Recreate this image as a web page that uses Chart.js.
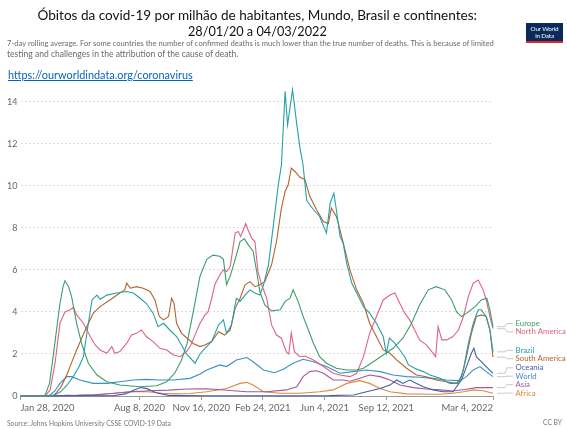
<!DOCTYPE html>
<html>
<head>
<meta charset="utf-8">
<script src="https://cdn.jsdelivr.net/npm/chart.js@4.4.1/dist/chart.umd.min.js"></script>
<style>
  body { margin: 0; width: 567px; height: 429px; overflow: hidden; background: #fff; position: relative; font-family: Lato, "Open Sans", sans-serif; }
  #chart { position: absolute; left: 0; top: 0; }
  .txt { position: absolute; white-space: nowrap; line-height: 1; }
  #title1, #title2 { color: #111; }
  #sub1, #sub2 { color: #6b6b6b; }
  #link { color: #0563c1; text-decoration: underline; }
  #source, #ccby { color: #777; }
  #logo { position: absolute; left: 526px; top: 23px; width: 37px; height: 20px; background: #0b2a5b; border-bottom: 2px solid #d42b2b; box-sizing: border-box; color: #fff; font-size: 6.4px; line-height: 7.4px; text-align: center; padding-top: 2px; letter-spacing: -0.2px; }
</style>
</head>
<body>
<canvas id="chart" width="567" height="429"></canvas>
<div class="txt" id="title1">Óbitos da covid-19 por milhão de habitantes, Mundo, Brasil e continentes:</div>
<div class="txt" id="title2">28/01/20 a 04/03/2022</div>
<div class="txt" id="sub1">7-day rolling average. For some countries the number of confirmed deaths is much lower than the true number of deaths. This is because of limited</div>
<div class="txt" id="sub2">testing and challenges in the attribution of the cause of death.</div>
<div class="txt" id="link">https://ourworldindata.org/coronavirus</div>
<div id="logo">Our World<br>in Data</div>
<div class="txt" id="source">Source: Johns Hopkins University CSSE COVID-19 Data</div>
<div class="txt" id="ccby">CC BY</div>
<script>
// days since Jan 28, 2020 -> daily deaths per million (7-day avg)
const europe = [[0,0],[35,0],[40,0.05],[47,0.6],[53,1.9],[60,3.5],[64,4.4],[69,5.2],[72,5.48],[78,5.2],[83,4.7],[91,3.46],[99,2.5],[110,1.56],[124,1.0],[140,0.68],[161,0.52],[194,0.44],[221,0.49],[237,0.68],[250,1.08],[261,1.7],[270,2.5],[280,4.0],[291,5.7],[302,6.5],[312,6.7],[323,6.65],[329,6.5],[334,5.3],[340,5.7],[348,6.5],[356,7.35],[363,7.48],[369,7.2],[377,6.9],[383,5.9],[388,4.97],[396,4.33],[407,4.05],[421,4.1],[429,4.5],[437,4.65],[442,5.05],[450,4.5],[458,3.8],[466,3.2],[475,2.5],[485,1.87],[496,1.56],[512,1.32],[529,1.24],[545,1.24],[556,1.32],[572,1.63],[588,1.95],[604,2.27],[620,2.75],[634,3.46],[647,4.33],[661,5.05],[674,5.2],[688,5.05],[699,4.57],[707,4.0],[715,3.78],[726,4.0],[737,4.25],[747,4.57],[756,4.65],[761,4.1],[766,3.3]];

const northAmerica = [[0,0],[40,0],[48,0.29],[56,1.56],[64,3.46],[72,4.0],[80,4.1],[86,4.22],[91,3.86],[102,3.46],[113,2.83],[121,2.43],[129,2.19],[140,2.03],[148,2.35],[153,2.03],[161,2.11],[172,2.5],[180,2.9],[188,2.98],[196,3.14],[204,2.83],[215,2.59],[226,2.27],[237,2.19],[248,1.95],[259,1.87],[269,2.11],[275,2.35],[291,3.46],[299,3.86],[304,4.0],[310,4.65],[315,5.29],[323,5.76],[329,6.0],[334,5.92],[340,6.16],[348,7.75],[353,7.83],[357,7.59],[365,8.2],[369,7.9],[375,7.5],[380,7.35],[385,5.92],[391,5.29],[399,4.65],[407,3.38],[415,2.9],[423,2.75],[431,2.1],[435,2.0],[439,3.0],[444,2.11],[453,1.87],[461,1.9],[475,1.71],[491,1.4],[507,1.08],[518,1.0],[534,0.92],[545,1.08],[556,1.87],[566,2.98],[577,3.78],[588,4.57],[599,4.8],[607,4.9],[615,4.4],[623,3.94],[631,3.62],[639,3.14],[647,2.67],[658,2.43],[669,2.03],[673,1.87],[677,3.3],[683,2.67],[691,2.67],[701,2.83],[710,3.14],[718,3.78],[726,4.73],[734,5.37],[742,5.52],[750,5.05],[755,4.57],[761,3.78],[766,3.2]];

const brazil = [[0,0],[45,0],[55,0.05],[65,0.2],[75,0.5],[85,0.9],[95,1.4],[102,1.87],[110,3.46],[116,4.57],[124,4.8],[129,4.6],[140,4.8],[156,4.9],[172,4.97],[183,4.9],[194,4.65],[204,4.4],[215,3.94],[223,3.3],[232,3.46],[242,3.14],[253,2.83],[261,2.43],[269,2.0],[283,1.56],[291,2.0],[299,2.27],[310,2.59],[321,3.38],[329,3.62],[334,2.98],[342,3.38],[350,4.65],[356,4.5],[364,4.8],[372,5.05],[380,4.9],[388,4.8],[394,5.29],[402,6.24],[410,8.14],[418,10.05],[423,11.0],[429,14.5],[433,12.9],[441,14.57],[448,12.9],[453,11.8],[458,11.0],[464,9.3],[475,8.86],[485,8.54],[496,7.75],[502,9.17],[508,9.65],[512,8.86],[518,7.6],[523,7.27],[529,6.3],[537,5.37],[545,4.9],[556,4.25],[566,3.94],[577,3.46],[588,2.83],[593,2.03],[598,2.75],[607,2.5],[615,2.19],[623,1.87],[629,1.48],[639,1.32],[653,1.16],[664,1.0],[680,0.84],[696,0.6],[710,0.6],[718,1.24],[726,2.5],[734,3.46],[742,4.1],[747,4.1],[755,3.78],[761,3.14],[766,2.1]];

const southAmerica = [[0,0],[45,0],[55,0.05],[65,0.4],[75,1.0],[83,1.6],[91,2.19],[105,3.14],[118,3.94],[129,4.25],[145,4.57],[161,4.9],[169,5.05],[172,5.37],[178,5.13],[188,5.2],[199,5.13],[210,4.97],[218,4.57],[225,3.78],[232,3.62],[240,3.78],[245,4.65],[249,4.4],[253,3.46],[261,2.98],[267,2.83],[280,2.5],[291,2.35],[299,2.43],[310,2.59],[321,3.06],[331,2.9],[340,3.14],[348,4.17],[356,4.65],[364,5.29],[372,5.44],[380,5.2],[388,5.29],[396,5.44],[407,6.24],[415,7.35],[423,8.94],[429,9.73],[434,10.05],[439,10.84],[445,10.68],[453,10.4],[461,10.3],[469,9.5],[480,8.86],[491,8.3],[499,8.2],[504,8.94],[512,8.54],[518,7.9],[526,6.95],[534,6.0],[545,5.05],[556,4.4],[566,3.46],[577,2.83],[588,2.19],[599,2.03],[610,1.71],[626,1.32],[642,1.0],[658,0.92],[674,0.76],[691,0.68],[707,0.6],[715,0.92],[723,1.87],[731,2.98],[739,3.78],[747,3.86],[755,3.78],[761,3.14],[766,1.85]];

const oceania = [[0,0],[60,0],[75,0.03],[90,0.02],[150,0.01],[170,0.1],[185,0.3],[195,0.4],[205,0.35],[220,0.15],[240,0.03],[300,0.01],[400,0.01],[500,0.02],[540,0.05],[561,0.2],[583,0.36],[599,0.52],[610,0.76],[620,0.6],[631,0.76],[642,0.6],[653,0.44],[669,0.29],[685,0.2],[701,0.2],[715,0.76],[723,1.4],[731,2.03],[735,2.27],[739,1.87],[747,1.63],[755,1.4],[766,1.08]];

const world = [[0,0],[40,0.01],[48,0.05],[56,0.25],[64,0.6],[75,0.92],[83,0.92],[96,0.76],[118,0.6],[140,0.6],[161,0.68],[183,0.76],[204,0.79],[226,0.76],[248,0.76],[275,0.84],[291,1.05],[302,1.24],[323,1.48],[334,1.4],[350,1.71],[367,1.83],[377,1.63],[394,1.24],[412,1.11],[426,1.27],[442,1.56],[458,1.75],[475,1.63],[496,1.4],[518,1.08],[539,1.16],[561,1.24],[583,1.16],[604,1.0],[626,0.92],[647,0.89],[669,0.84],[691,0.76],[712,0.73],[723,0.92],[734,1.24],[745,1.4],[755,1.16],[766,0.92]];

const asia = [[0,0],[20,0.01],[40,0.02],[60,0.02],[90,0.03],[120,0.06],[150,0.12],[180,0.2],[210,0.25],[240,0.28],[270,0.33],[300,0.34],[313,0.32],[340,0.26],[367,0.2],[399,0.2],[431,0.29],[448,0.44],[458,0.92],[469,1.16],[480,1.2],[491,1.08],[507,0.76],[523,0.76],[534,0.7],[550,0.84],[566,1.0],[583,0.92],[599,0.76],[615,0.52],[637,0.4],[658,0.33],[680,0.29],[701,0.24],[723,0.32],[739,0.4],[766,0.4]];

const africa = [[0,0],[60,0],[90,0.02],[120,0.06],[150,0.13],[175,0.2],[190,0.22],[205,0.2],[230,0.13],[250,0.1],[275,0.12],[302,0.2],[334,0.36],[356,0.6],[367,0.65],[377,0.52],[394,0.2],[421,0.13],[453,0.13],[485,0.2],[507,0.29],[529,0.6],[550,0.73],[566,0.6],[583,0.36],[599,0.2],[626,0.1],[658,0.08],[680,0.08],[701,0.13],[718,0.2],[734,0.29],[750,0.25],[766,0.13]];

const seriesNames = ['Europe', 'North America', 'Brazil', 'South America', 'Oceania', 'World', 'Asia', 'Africa'];
const seriesData = [europe, northAmerica, brazil, southAmerica, oceania, world, asia, africa];
const seriesColors = ['#3b9e6a', '#dd6384', '#26a0a4', '#b4632f', '#41629f', '#3a8fc6', '#a6579f', '#e08a3a'];

const tickDays = [0, 193, 293, 393, 493, 593, 766];
const tickLabels = ['Jan 28, 2020', 'Aug 8, 2020', 'Nov 16, 2020', 'Feb 24, 2021', 'Jun 4, 2021', 'Sep 12, 2021', 'Mar 4, 2022'];
const yTicks = [0, 2, 4, 6, 8, 10, 12, 14];

// fit a text line to a measured width
function fit(id, x, baseline, width, centered) {
  const el = document.getElementById(id);
  el.style.fontSize = '20px';
  const w = el.getBoundingClientRect().width;
  const size = 20 * width / w;
  el.style.fontSize = size + 'px';
  el.style.top = (baseline - size * 0.84) + 'px';
  el.style.left = (centered ? x - width / 2 : x) + 'px';
}
fit('title1', 257.5, 20, 440, true);
fit('title2', 257.5, 35.5, 139, true);
fit('sub1', 7, 46.5, 488, false);
fit('sub2', 7, 57, 232, false);
fit('link', 8, 79, 185, false);
fit('source', 7, 426, 164, false);
fit('ccby', 543, 425, 19, false);

// end-of-line labels with connectors
const endLabels = {
  id: 'endLabels',
  afterDatasetsDraw(chart) {
    const { ctx, chartArea, scales } = chart;
    const items = chart.data.datasets.map(ds => {
      const last = ds.data[ds.data.length - 1];
      const y = scales.y.getPixelForValue(last.y);
      return { label: ds.label, color: ds.borderColor, lineY: y, y: y };
    }).sort((a, b) => a.lineY - b.lineY);
    const gap = 8.4;
    const maxY = chartArea.bottom - 3;
    for (let k = 0; k < 60; k++) {
      for (let i = 1; i < items.length; i++) {
        const g = items[i].y - items[i - 1].y;
        if (g < gap) {
          const d = (gap - g) / 2;
          items[i].y += d;
          items[i - 1].y -= d;
        }
      }
      const n = items.length;
      if (items[n - 1].y > maxY) items[n - 1].y = maxY;
      for (let i = n - 2; i >= 0; i--) {
        if (items[i + 1].y - items[i].y < gap) items[i].y = items[i + 1].y - gap;
      }
    }
    const r = chartArea.right;
    ctx.save();
    ctx.strokeStyle = '#bdbdbd';
    ctx.lineWidth = 0.8;
    ctx.font = '7.8px Lato';
    ctx.textBaseline = 'middle';
    items.forEach(it => {
      ctx.beginPath();
      ctx.moveTo(r + 4, it.lineY);
      ctx.lineTo(r + 12, it.lineY);
      ctx.lineTo(r + 14, it.y);
      ctx.lineTo(r + 20, it.y);
      ctx.stroke();
      ctx.fillStyle = it.color;
      ctx.fillText(it.label, r + 22.5, it.y);
    });
    ctx.restore();
  }
};

const datasets = seriesNames.map((name, i) => ({
  label: name,
  data: seriesData[i].map(p => ({ x: p[0], y: p[1] })),
  borderColor: seriesColors[i],
  borderWidth: 1.1,
  pointRadius: 0,
  tension: 0,
  fill: false,
  clip: false
}));

new Chart(document.getElementById('chart').getContext('2d'), {
  type: 'line',
  data: { datasets: datasets },
  options: {
    responsive: false,
    animation: false,
    layout: { padding: { top: 101.7, right: 74, left: 0, bottom: 0 } },
    scales: {
      x: {
        type: 'linear',
        min: 0,
        max: 766,
        afterFit: s => { s.height = 33; },
        afterBuildTicks: s => { s.ticks = tickDays.map(v => ({ value: v })); },
        ticks: {
          autoSkip: false,
          maxRotation: 0,
          align: 'inner',
          color: '#666',
          padding: 2,
          font: { family: 'Lato', size: 9.5 },
          callback: (v, i) => tickLabels[i]
        },
        grid: { drawOnChartArea: false, tickLength: 4, color: '#999' },
        border: { color: '#999' }
      },
      y: {
        min: 0,
        max: 14,
        afterFit: s => { s.width = 20.5; },
        afterBuildTicks: s => { s.ticks = yTicks.map(v => ({ value: v })); },
        ticks: { color: '#666', padding: 3, font: { family: 'Lato', size: 9 } },
        grid: { color: '#dcdcdc', drawTicks: false },
        border: { display: false, dash: [2, 2] }
      }
    },
    plugins: { legend: { display: false }, tooltip: { enabled: false } }
  },
  plugins: [endLabels]
});
</script>
</body>
</html>
